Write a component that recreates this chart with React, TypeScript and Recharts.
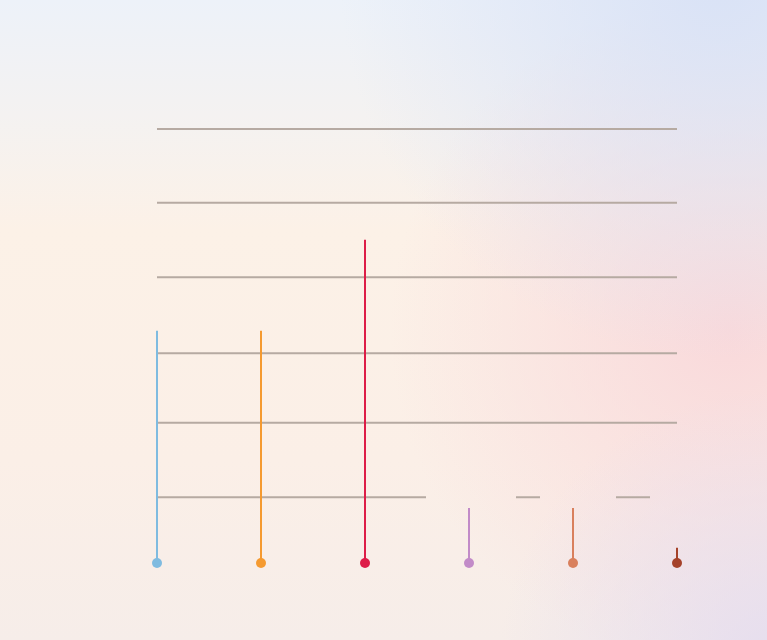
import React from 'react';
import { ComposedChart, Bar, XAxis, YAxis, ReferenceLine, Cell, LabelList } from 'recharts';

// ---- data ----
const categories = ['Item 1', 'Item 2', 'Item 3', 'Item 4', 'Item 5', 'Item 6'];
const values = [32.1, 32.1, 44.7, 7.6, 7.6, 2.1];
const gridValues = [9.1, 19.4, 29, 39.5, 49.8, 60];

// ---- styles ----
const colors = ['#7fbbe0', '#f59a30', '#dd1d48', '#c28bc8', '#d9805d', '#a5422a'];
const labelExtents: [number, number][] = [
  [40, 40],
  [40, 40],
  [40, 40],
  [43, 47],
  [33, 43],
  [27, 27],
];
const GRID = '#b6aaa2';
const W = 767;
const H = 640;

const data = categories.map((name, i) => ({ name, value: values[i] }));

const bgFills = ['url(#bgBase)', 'url(#bgPink)', 'url(#bgBlue)', 'url(#bgLav)'];

const Background = () => (
  <svg width={W} height={H} style={{ position: 'absolute', left: 0, top: 0 }}>
    <defs>
      <linearGradient id="bgBase" gradientUnits="userSpaceOnUse" x1={0} y1={0} x2={0} y2={H}>
        <stop offset="0" stopColor="#edf2f9" />
        <stop offset="0.18" stopColor="#f4f2f1" />
        <stop offset="0.36" stopColor="#fcf1e7" />
        <stop offset="0.72" stopColor="#fbefe7" />
        <stop offset="1" stopColor="#f6ede9" />
      </linearGradient>
      <radialGradient id="bgPink" gradientUnits="userSpaceOnUse" cx={730} cy={330} r={340}>
        <stop offset="0" stopColor="#f9d9db" stopOpacity={1} />
        <stop offset="1" stopColor="#f9d9db" stopOpacity={0} />
      </radialGradient>
      <radialGradient id="bgBlue" gradientUnits="userSpaceOnUse" cx={720} cy={-20} r={380}>
        <stop offset="0" stopColor="#d9e2f6" stopOpacity={1} />
        <stop offset="1" stopColor="#d9e2f6" stopOpacity={0} />
      </radialGradient>
      <radialGradient id="bgLav" gradientUnits="userSpaceOnUse" cx={770} cy={660} r={270}>
        <stop offset="0" stopColor="#e5ddef" stopOpacity={0.95} />
        <stop offset="1" stopColor="#e5ddef" stopOpacity={0} />
      </radialGradient>
    </defs>
    {bgFills.map((f) => (
      <rect key={f} x={0} y={0} width={W} height={H} fill={f} />
    ))}
  </svg>
);

const Stem = (props: any) => {
  const { x, y, width, height, index } = props;
  const cx = x + width / 2;
  const color = props.fill || colors[index];
  return (
    <g>
      <line x1={cx} x2={cx} y1={y} y2={y + height} stroke={color} strokeWidth={2} />
      <circle cx={cx} cy={y + height} r={5} fill={color} />
    </g>
  );
};

const LabelBox = (props: any) => {
  const { x, y, width, height, index } = props;
  if (x == null || y == null) return null;
  const cx = x + (width || 0) / 2;
  const [l, r] = labelExtents[index] || [40, 40];
  const baseline = y + (height || 0);
  const centerY = Math.min(y - 11, baseline - 66);
  return (
    <g>
      {bgFills.map((f) => (
        <rect key={f} x={cx - l} y={centerY - 7} width={l + r} height={14} fill={f} />
      ))}
    </g>
  );
};

export default function App() {
  return (
    <div style={{ position: 'absolute', left: 0, top: 0, width: W, height: H, overflow: 'hidden' }}>
      <Background />
      <div style={{ position: 'absolute', left: 0, top: 0 }}>
        <ComposedChart
          width={W}
          height={H}
          data={data}
          margin={{ top: 129, right: 38, bottom: 77, left: 105 }}
        >
          <XAxis dataKey="name" hide />
          <YAxis hide domain={[0, 60]} type="number" />
          {gridValues.map((v) => (
            <ReferenceLine
              key={v}
              segment={[
                { x: categories[0], y: v },
                { x: categories[categories.length - 1], y: v },
              ]}
              stroke={GRID}
              strokeWidth={2}
              {...({ zIndex: -100 } as any)}
            />
          ))}
          <Bar dataKey="value" barSize={2} shape={<Stem />} isAnimationActive={false}>
            {data.map((d, i) => (
              <Cell key={d.name} fill={colors[i]} />
            ))}
            <LabelList dataKey="value" content={<LabelBox />} />
          </Bar>
        </ComposedChart>
      </div>
    </div>
  );
}
